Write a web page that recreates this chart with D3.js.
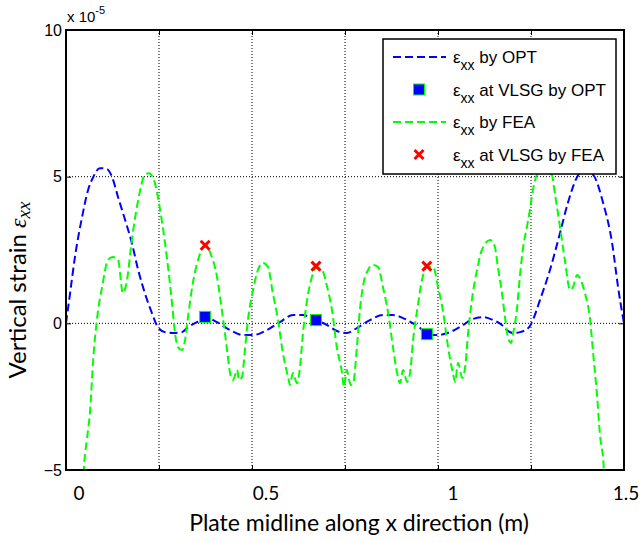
<!DOCTYPE html>
<html>
<head>
<meta charset="utf-8">
<script src="https://cdn.jsdelivr.net/npm/d3@7"></script>
<style>
  body { margin: 0; background: #fff; }
</style>
</head>
<body>
<svg id="chart"></svg>
<script>
// strain along the plate midline, values in 1e-5
const optX = [0, 0.011, 0.024, 0.043, 0.059, 0.073, 0.091, 0.110, 0.124, 0.140, 0.159, 0.177, 0.194, 0.212, 0.231, 0.247, 0.266, 0.288, 0.312, 0.328, 0.352, 0.374, 0.406, 0.441, 0.476, 0.503, 0.540, 0.575, 0.610, 0.637, 0.672, 0.702, 0.728, 0.755, 0.782, 0.817, 0.852, 0.879, 0.917, 0.952, 0.970, 0.997, 1.032, 1.067, 1.094, 1.121, 1.148, 1.172, 1.185, 1.202, 1.220, 1.245, 1.255, 1.274, 1.301, 1.328, 1.349, 1.374, 1.390, 1.417, 1.444, 1.468, 1.484, 1.497, 1.5];
const optY = [0, 1.03, 2.26, 3.61, 4.53, 4.98, 5.29, 5.26, 4.98, 4.30, 3.52, 2.74, 1.82, 1.03, 0.35, -0.13, -0.30, -0.33, -0.30, -0.13, 0.04, 0.21, 0.04, -0.23, -0.40, -0.40, -0.23, 0.04, 0.28, 0.28, 0.11, -0.06, -0.26, -0.33, -0.16, 0.11, 0.28, 0.28, 0.11, -0.16, -0.36, -0.40, -0.30, -0.06, 0.15, 0.21, 0.11, -0.06, -0.23, -0.33, -0.30, -0.13, 0.11, 0.79, 1.82, 3.08, 4.10, 4.99, 5.23, 5.06, 4.10, 2.74, 1.24, 0.21, 0];

const feaX = [0.040, 0.048, 0.056, 0.065, 0.073, 0.083, 0.097, 0.113, 0.126, 0.140, 0.153, 0.164, 0.177, 0.194, 0.212, 0.223, 0.239, 0.253, 0.272, 0.285, 0.293, 0.301, 0.312, 0.320, 0.328, 0.341, 0.355, 0.368, 0.379, 0.387, 0.406, 0.419, 0.433, 0.441, 0.449, 0.460, 0.465, 0.473, 0.481, 0.489, 0.503, 0.516, 0.530, 0.543, 0.556, 0.570, 0.583, 0.597, 0.602, 0.610, 0.621, 0.629, 0.637, 0.648, 0.661, 0.672, 0.688, 0.702, 0.715, 0.728, 0.742, 0.747, 0.755, 0.761, 0.766, 0.772, 0.782, 0.790, 0.798, 0.812, 0.825, 0.839, 0.852, 0.866, 0.879, 0.890, 0.898, 0.906, 0.917, 0.925, 0.933, 0.944, 0.957, 0.970, 0.987, 1.000, 1.013, 1.027, 1.040, 1.046, 1.054, 1.065, 1.073, 1.081, 1.091, 1.105, 1.118, 1.140, 1.153, 1.161, 1.172, 1.180, 1.188, 1.196, 1.202, 1.212, 1.220, 1.229, 1.239, 1.247, 1.255, 1.269, 1.288, 1.306, 1.314, 1.328, 1.341, 1.355, 1.363, 1.374, 1.387, 1.395, 1.409, 1.417, 1.427, 1.435, 1.446, 1.454];
const feaY = [-8.0, -5.0, -3.98, -2.95, -1.25, 0.11, 1.24, 2.16, 2.26, 2.16, 1.03, 1.48, 2.84, 4.20, 5.06, 5.12, 4.78, 3.86, 2.16, 0.69, -0.33, -0.81, -0.91, -0.57, 0.22, 1.37, 2.16, 2.57, 2.64, 2.43, 1.58, 0.45, -0.91, -1.69, -1.93, -1.59, -1.93, -1.83, -0.91, 0.11, 1.14, 1.82, 2.06, 1.92, 1.03, 0.11, -1.01, -1.83, -2.10, -1.69, -2.04, -1.49, -0.33, 0.79, 1.58, 1.89, 1.82, 1.24, 0.45, -0.81, -1.69, -2.17, -1.59, -1.93, -2.10, -2.04, -0.81, 0.45, 1.24, 1.82, 1.99, 1.92, 1.24, 0.35, -0.81, -1.69, -2.04, -1.59, -2.00, -1.69, -0.57, 0.45, 1.48, 1.92, 1.92, 1.24, 0.45, -0.81, -1.69, -2.00, -1.35, -1.86, -1.49, -0.33, 0.79, 1.82, 2.50, 2.84, 2.60, 1.92, 1.03, 0.21, -0.47, -0.67, -0.33, 0.45, 1.58, 2.60, 3.28, 3.86, 4.54, 5.12, 5.23, 5.06, 4.44, 3.28, 2.16, 1.14, 1.24, 1.65, 1.37, 1.03, 0.11, -1.01, -2.38, -3.74, -5.0, -8.0];

// strain gauge (VLSG) locations
const gaugeX = [0.374, 0.672, 0.970];
const gaugeOptY = [0.22, 0.11, -0.37];
const gaugeFeaY = [2.66, 1.95, 1.95];

const xGridTicks = [0, 0.25, 0.5, 0.75, 1, 1.25, 1.5];
const xTickLabels = [0, 0.5, 1, 1.5];
const yTicks = [-5, 0, 5, 10];

const legendItems = [
  { type: "line", color: "#0000ff", text: " by OPT" },
  { type: "square", text: " at VLSG by OPT" },
  { type: "line", color: "#00ff00", text: " by FEA" },
  { type: "cross", text: " at VLSG by FEA" }
];

const width = 642, height = 542;
const margin = { top: 30, right: 18, bottom: 72, left: 66 };
const innerWidth = width - margin.left - margin.right;
const innerHeight = height - margin.top - margin.bottom;

const svg = d3.select("#chart")
  .attr("width", width)
  .attr("height", height)
  .style("font-family", "'Liberation Sans', Arial, sans-serif");

const g = svg.append("g")
  .attr("transform", `translate(${margin.left},${margin.top})`);

const xScale = d3.scaleLinear().domain([0, 1.5]).range([0, innerWidth]);
const yScale = d3.scaleLinear().domain([-5, 10]).range([innerHeight, 0]);
// the printed x labels sit a little right of the grid
const labelScale = d3.scaleLinear().domain([0, 1.5]).range([79, 640]);

g.append("defs").append("clipPath").attr("id", "plot-clip")
  .append("rect").attr("width", innerWidth).attr("height", innerHeight);

// dotted grid
g.append("g")
  .selectAll("line")
  .data(xGridTicks.slice(1, -1))
  .enter().append("line")
  .attr("x1", d => xScale(d)).attr("x2", d => xScale(d))
  .attr("y1", 0).attr("y2", innerHeight)
  .attr("stroke", "#000").attr("stroke-width", 1)
  .attr("stroke-dasharray", "1,2");

g.append("g")
  .selectAll("line")
  .data(yTicks.slice(1, -1))
  .enter().append("line")
  .attr("x1", 0).attr("x2", innerWidth)
  .attr("y1", d => yScale(d)).attr("y2", d => yScale(d))
  .attr("stroke", "#000").attr("stroke-width", 1)
  .attr("stroke-dasharray", "1,2");

// inward ticks on all four sides
const noText = a => { a.select(".domain").remove(); a.selectAll("text").remove(); };
g.append("g")
  .attr("transform", `translate(0,${innerHeight})`)
  .call(d3.axisBottom(xScale).tickValues(xGridTicks).tickSize(-5))
  .call(noText);
g.append("g")
  .call(d3.axisTop(xScale).tickValues(xGridTicks).tickSize(-5))
  .call(noText);
g.append("g")
  .attr("transform", `translate(${innerWidth},0)`)
  .call(d3.axisRight(yScale).tickValues(yTicks).tickSize(-5))
  .call(noText);
g.append("g")
  .call(d3.axisLeft(yScale).tickValues(yTicks).tickSize(-5).tickPadding(4).tickFormat(d3.format("d")))
  .call(a => a.select(".domain").remove())
  .call(a => a.selectAll("text").attr("font-size", 16).attr("fill", "#000")
    .attr("font-family", "'Liberation Sans', Arial, sans-serif"));

// lines
const line = d3.line()
  .x(d => xScale(d[0]))
  .y(d => yScale(d[1]))
  .curve(d3.curveMonotoneX);

const plot = g.append("g").attr("clip-path", "url(#plot-clip)");

plot.append("path")
  .datum(optX.map((x, i) => [x, optY[i]]))
  .attr("fill", "none")
  .attr("stroke", "#0000ff")
  .attr("stroke-width", 2)
  .attr("stroke-dasharray", "8,4")
  .attr("d", line);

plot.selectAll(".sq")
  .data(gaugeX.map((x, i) => [x, gaugeOptY[i]]))
  .enter().append("rect")
  .attr("class", "sq")
  .attr("x", d => xScale(d[0]) - 5.5)
  .attr("y", d => yScale(d[1]) - 5.5)
  .attr("width", 11).attr("height", 11)
  .attr("fill", "#0000ff")
  .attr("stroke", "#00ff00").attr("stroke-width", 1);

plot.append("path")
  .datum(feaX.map((x, i) => [x, feaY[i]]))
  .attr("fill", "none")
  .attr("stroke", "#00ff00")
  .attr("stroke-width", 2)
  .attr("stroke-dasharray", "8,4")
  .attr("d", line);

plot.selectAll(".cx")
  .data(gaugeX.map((x, i) => [x, gaugeFeaY[i]]))
  .enter().append("path")
  .attr("class", "cx")
  .attr("transform", d => `translate(${xScale(d[0])},${yScale(d[1])})`)
  .attr("d", "M-4.5,-4.5L4.5,4.5M-4.5,4.5L4.5,-4.5")
  .attr("stroke", "#ff0000").attr("stroke-width", 3);

// frame
g.append("rect")
  .attr("width", innerWidth).attr("height", innerHeight)
  .attr("fill", "none").attr("stroke", "#000").attr("stroke-width", 2);

// exponent
const expo = svg.append("text")
  .attr("x", 67).attr("y", 22)
  .attr("font-size", 15).attr("fill", "#000");
expo.append("tspan").text("x 10");
expo.append("tspan").attr("font-size", 11).attr("dy", -8).text("-5");

// x tick labels (Calibri-like)
svg.append("g")
  .selectAll("text")
  .data(xTickLabels)
  .enter().append("text")
  .attr("x", d => Math.min(labelScale(d), 626))
  .attr("y", 500)
  .attr("text-anchor", "middle")
  .attr("font-family", "Lato, 'Open Sans', sans-serif")
  .attr("font-size", 19)
  .attr("fill", "#000")
  .text(d => d);

svg.append("text")
  .attr("x", 359).attr("y", 531)
  .attr("text-anchor", "middle")
  .attr("font-family", "Lato, 'Open Sans', sans-serif")
  .attr("font-size", 23)
  .attr("fill", "#000")
  .text("Plate midline along x direction (m)");

const ylab = svg.append("text")
  .attr("transform", "translate(26,290) rotate(-90)")
  .attr("text-anchor", "middle")
  .attr("font-family", "Lato, 'Open Sans', sans-serif")
  .attr("font-size", 24)
  .attr("fill", "#000");
ylab.append("tspan").text("Vertical strain ");
ylab.append("tspan").attr("font-family", "'Liberation Serif', serif").attr("font-style", "italic").text("\u03b5");
ylab.append("tspan").attr("font-family", "'Liberation Serif', serif").attr("font-style", "italic")
  .attr("font-size", 19).attr("dy", 4).text("xx");

// legend
const legend = svg.append("g");
legend.append("rect")
  .attr("x", 383).attr("y", 39)
  .attr("width", 233).attr("height", 135)
  .attr("fill", "#fff").attr("stroke", "#000").attr("stroke-width", 1.5);

const rows = legend.selectAll(".row")
  .data(legendItems)
  .enter().append("g")
  .attr("class", "row")
  .attr("transform", (d, i) => `translate(383,${57 + i * 32.5})`);

rows.filter(d => d.type === "line").append("line")
  .attr("x1", 10).attr("x2", 63).attr("y1", 0).attr("y2", 0)
  .attr("stroke", d => d.color).attr("stroke-width", 2)
  .attr("stroke-dasharray", "8,4");
rows.filter(d => d.type === "square").append("rect")
  .attr("x", 30.5).attr("y", -5.5).attr("width", 11).attr("height", 11)
  .attr("fill", "#0000ff").attr("stroke", "#00ff00").attr("stroke-width", 1);
rows.filter(d => d.type === "cross").append("path")
  .attr("transform", "translate(36,0)")
  .attr("d", "M-4.5,-4.5L4.5,4.5M-4.5,4.5L4.5,-4.5")
  .attr("stroke", "#ff0000").attr("stroke-width", 3);

const lt = rows.append("text")
  .attr("x", 70).attr("y", 6)
  .attr("font-size", 17).attr("fill", "#000");
lt.append("tspan").attr("font-size", 17).text("\u03b5");
lt.append("tspan").attr("font-size", 14).attr("dy", 7).text("xx");
lt.append("tspan").attr("dy", -7).text(d => d.text);
</script>
</body>
</html>
